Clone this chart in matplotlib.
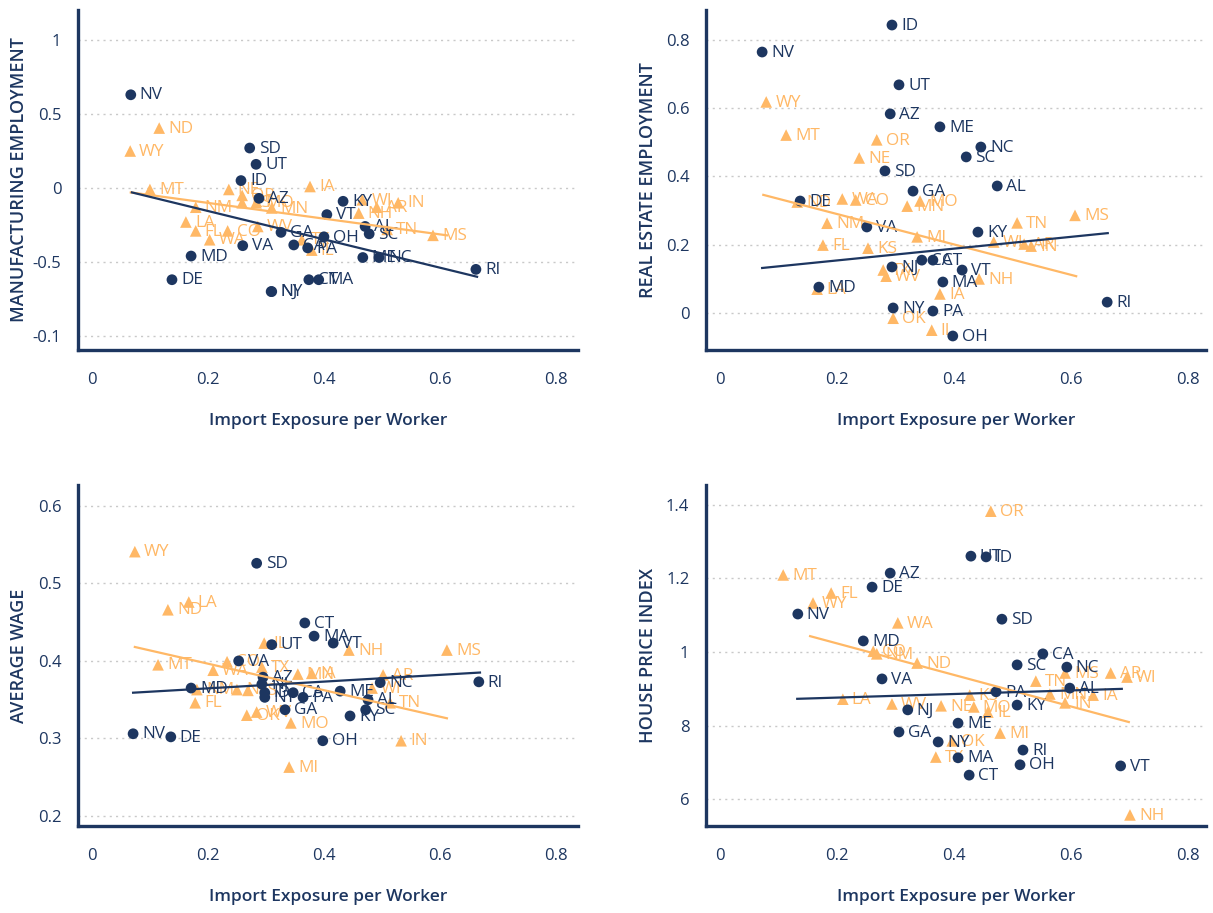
import matplotlib
matplotlib.use("Agg")
import matplotlib.pyplot as plt
import numpy as np

plt.rcParams['font.family'] = ['Open Sans', 'DejaVu Sans']

NAVY = "#1d3660"
ORANGE = "#ffb866"

# ---------------- Panel 1: Manufacturing employment ----------------
mfg_navy_states = ["NV", "SD", "UT", "ID", "AZ", "KY", "VT", "AL", "SC", "GA", "OH", "CA", "PA",
                   "VA", "MD", "DE", "NJ", "NY", "CT", "MA", "ME", "NC", "RI"]
mfg_navy_x = [0.067, 0.272, 0.283, 0.257, 0.288, 0.433, 0.405, 0.471, 0.478, 0.326, 0.400, 0.348, 0.372,
              0.260, 0.171, 0.138, 0.309, 0.310, 0.374, 0.391, 0.467, 0.495, 0.662]
mfg_navy_y = [0.63, 0.27, 0.16, 0.05, -0.07, -0.09, -0.18, -0.26, -0.31, -0.30, -0.33, -0.385, -0.405,
              -0.39, -0.46, -0.62, -0.70, -0.70, -0.62, -0.62, -0.47, -0.47, -0.55]
mfg_orange_states = ["ND", "WY", "MT", "IA", "NE", "OR", "KS", "MO", "MN", "NM", "LA", "FL", "CO", "WA",
                     "WV", "TX", "IL", "WI", "AR", "IN", "NH", "TN", "MS"]
mfg_orange_x = [0.116, 0.066, 0.100, 0.376, 0.236, 0.259, 0.259, 0.283, 0.310, 0.179, 0.162, 0.179, 0.234, 0.203,
                0.286, 0.362, 0.379, 0.466, 0.491, 0.528, 0.460, 0.509, 0.588]
mfg_orange_y = [0.405, 0.25, -0.01, 0.01, -0.01, -0.05, -0.10, -0.10, -0.135, -0.13, -0.23, -0.29, -0.29, -0.35,
                -0.26, -0.35, -0.42, -0.08, -0.13, -0.10, -0.17, -0.28, -0.32]
mfg_navy_fit_x = [0.069, 0.664]
mfg_navy_fit_y = [-0.03, -0.60]
mfg_orange_fit_x = [0.067, 0.612]
mfg_orange_fit_y = [-0.03, -0.32]
mfg_yticks = [1, 0.5, 0, -0.5, -1]
mfg_yticklabels = ["1", "0.5", "0", "-0.5", "-0.1"]

# ---------------- Panel 2: Real estate employment ----------------
re_navy_states = ["ID", "NV", "UT", "AZ", "ME", "NC", "SC", "SD", "AL", "GA", "DE", "VA", "KY", "CA", "CT",
                  "NJ", "VT", "MA", "MD", "NY", "PA", "OH", "RI"]
re_navy_x = [0.294, 0.072, 0.306, 0.291, 0.376, 0.446, 0.421, 0.282, 0.474, 0.330, 0.137, 0.251, 0.441, 0.345, 0.364,
             0.294, 0.414, 0.381, 0.169, 0.296, 0.364, 0.398, 0.662]
re_navy_y = [0.843, 0.764, 0.668, 0.583, 0.545, 0.486, 0.457, 0.416, 0.372, 0.357, 0.328, 0.252, 0.237, 0.155, 0.155,
             0.135, 0.126, 0.091, 0.076, 0.015, 0.006, -0.067, 0.032]
re_orange_states = ["WY", "MT", "OR", "NE", "ND", "WA", "CO", "MN", "MO", "NM", "FL", "KS", "MI", "TX", "WV",
                    "LA", "IA", "OK", "IL", "NH", "TN", "MS", "WI", "AR", "IN"]
re_orange_x = [0.079, 0.113, 0.268, 0.238, 0.132, 0.209, 0.232, 0.320, 0.342, 0.183, 0.176, 0.253, 0.337, 0.279, 0.284,
               0.166, 0.376, 0.296, 0.362, 0.443, 0.508, 0.607, 0.468, 0.520, 0.532]
re_orange_y = [0.618, 0.521, 0.507, 0.454, 0.325, 0.334, 0.331, 0.313, 0.328, 0.263, 0.199, 0.190, 0.223, 0.126, 0.108,
               0.070, 0.056, -0.015, -0.050, 0.100, 0.264, 0.286, 0.208, 0.202, 0.196]
re_navy_fit_x = [0.072, 0.663]
re_navy_fit_y = [0.132, 0.234]
re_orange_fit_x = [0.074, 0.609]
re_orange_fit_y = [0.346, 0.108]
re_yticks = [0.8, 0.6, 0.4, 0.2, 0]
re_yticklabels = ["0.8", "0.6", "0.4", "0.2", "0"]

# ---------------- Panel 3: Average wage ----------------
wage_navy_states = ["SD", "CT", "MA", "VT", "UT", "VA", "MD", "AZ", "NJ", "ID", "NY", "CA", "PA", "ME", "NC",
                    "AL", "SC", "KY", "GA", "NV", "DE", "OH", "RI"]
wage_navy_x = [0.284, 0.367, 0.383, 0.416, 0.310, 0.253, 0.171, 0.295, 0.293, 0.298, 0.298, 0.347, 0.364, 0.428, 0.497,
               0.476, 0.472, 0.445, 0.333, 0.071, 0.136, 0.398, 0.667]
wage_navy_y = [0.526, 0.449, 0.432, 0.423, 0.421, 0.400, 0.365, 0.379, 0.370, 0.359, 0.353, 0.359, 0.353, 0.361, 0.372,
               0.350, 0.337, 0.329, 0.337, 0.306, 0.302, 0.297, 0.373]
wage_orange_states = ["WY", "LA", "ND", "MT", "WA", "CO", "IL", "TX", "FL", "NM", "NE", "KS", "OK", "WV", "MO",
                      "MI", "MN", "IA", "NH", "MS", "AR", "WI", "TN", "IN"]
wage_orange_x = [0.074, 0.167, 0.131, 0.114, 0.209, 0.233, 0.297, 0.293, 0.178, 0.181, 0.250, 0.269, 0.267, 0.284,
                 0.343, 0.340, 0.355, 0.379, 0.443, 0.612, 0.502, 0.483, 0.514, 0.533]
wage_orange_y = [0.541, 0.476, 0.466, 0.395, 0.388, 0.399, 0.423, 0.392, 0.346, 0.363, 0.363, 0.362, 0.330, 0.334,
                 0.320, 0.263, 0.383, 0.384, 0.414, 0.414, 0.382, 0.365, 0.346, 0.297]
wage_navy_fit_x = [0.071, 0.669]
wage_navy_fit_y = [0.359, 0.385]
wage_orange_fit_x = [0.074, 0.612]
wage_orange_fit_y = [0.418, 0.326]
wage_yticks = [0.6, 0.5, 0.4, 0.3, 0.2]
wage_yticklabels = ["0.6", "0.5", "0.4", "0.3", "0.2"]

# ---------------- Panel 4: House price index ----------------
hpi_navy_states = ["UT", "ID", "AZ", "DE", "NV", "SD", "MD", "CA", "SC", "NC", "VA", "PA", "AL", "KY", "NJ",
                   "ME", "GA", "NY", "RI", "MA", "OH", "CT", "VT"]
hpi_navy_x = [0.429, 0.455, 0.291, 0.260, 0.133, 0.482, 0.245, 0.552, 0.508, 0.593, 0.277, 0.472, 0.598, 0.508, 0.321,
              0.407, 0.306, 0.373, 0.518, 0.407, 0.513, 0.426, 0.685]
hpi_navy_y = [1.260, 1.258, 1.214, 1.176, 1.103, 1.089, 1.030, 0.995, 0.965, 0.959, 0.927, 0.892, 0.902, 0.856, 0.843,
              0.807, 0.783, 0.756, 0.734, 0.713, 0.694, 0.666, 0.691]
hpi_orange_states = ["OR", "MT", "FL", "WY", "WA", "CO", "NM", "ND", "LA", "WV", "NE", "KS", "MO", "IL", "TN",
                     "MS", "AR", "WI", "MN", "IA", "IN", "MI", "OK", "TX", "NH"]
hpi_orange_x = [0.463, 0.108, 0.190, 0.159, 0.304, 0.262, 0.268, 0.337, 0.210, 0.294, 0.378, 0.427, 0.434, 0.458, 0.540,
                0.590, 0.668, 0.696, 0.564, 0.638, 0.590, 0.479, 0.397, 0.369, 0.701]
hpi_orange_y = [1.382, 1.209, 1.160, 1.133, 1.079, 1.002, 0.995, 0.970, 0.872, 0.859, 0.854, 0.883, 0.851, 0.837, 0.921,
                0.943, 0.943, 0.932, 0.886, 0.883, 0.862, 0.780, 0.759, 0.715, 0.558]
hpi_navy_fit_x = [0.132, 0.687]
hpi_navy_fit_y = [0.873, 0.900]
hpi_orange_fit_x = [0.154, 0.699]
hpi_orange_fit_y = [1.043, 0.810]
hpi_yticks = [1.4, 1.2, 1.0, 0.8, 0.6]
hpi_yticklabels = ["1.4", "1.2", "1", "8", "6"]

xticks = [0, 0.2, 0.4, 0.6, 0.8]
xticklabels = ["0", "0.2", "0.4", "0.6", "0.8"]
xlabel = "Import Exposure per Worker"

W, H = 1213, 913
fig = plt.figure(figsize=(W / 100, H / 100), dpi=100)


def px_axes(l, t, r, b):
    return fig.add_axes([l / W, 1 - b / H, (r - l) / W, (b - t) / H])


panels = [
    dict(box=(78, 10, 578, 350), xlim=(-0.024, 0.838), ylim=(-1.095, 1.203), ylabel="MANUFACTURING EMPLOYMENT",
         nav=(mfg_navy_states, mfg_navy_x, mfg_navy_y), org=(mfg_orange_states, mfg_orange_x, mfg_orange_y),
         nfit=(mfg_navy_fit_x, mfg_navy_fit_y), ofit=(mfg_orange_fit_x, mfg_orange_fit_y),
         yt=(mfg_yticks, mfg_yticklabels), ylab_x=-0.12),
    dict(box=(706, 10, 1206, 350), xlim=(-0.024, 0.831), ylim=(-0.108, 0.887), ylabel="REAL ESTATE EMPLOYMENT",
         nav=(re_navy_states, re_navy_x, re_navy_y), org=(re_orange_states, re_orange_x, re_orange_y),
         nfit=(re_navy_fit_x, re_navy_fit_y), ofit=(re_orange_fit_x, re_orange_fit_y),
         yt=(re_yticks, re_yticklabels), ylab_x=-0.118),
    dict(box=(78, 485, 578, 826), xlim=(-0.024, 0.838), ylim=(0.187, 0.627), ylabel="AVERAGE WAGE",
         nav=(wage_navy_states, wage_navy_x, wage_navy_y), org=(wage_orange_states, wage_orange_x, wage_orange_y),
         nfit=(wage_navy_fit_x, wage_navy_fit_y), ofit=(wage_orange_fit_x, wage_orange_fit_y),
         yt=(wage_yticks, wage_yticklabels), ylab_x=-0.12),
    dict(box=(706, 485, 1206, 826), xlim=(-0.024, 0.831), ylim=(0.528, 1.453), ylabel="HOUSE PRICE INDEX",
         nav=(hpi_navy_states, hpi_navy_x, hpi_navy_y), org=(hpi_orange_states, hpi_orange_x, hpi_orange_y),
         nfit=(hpi_navy_fit_x, hpi_navy_fit_y), ofit=(hpi_orange_fit_x, hpi_orange_fit_y),
         yt=(hpi_yticks, hpi_yticklabels), ylab_x=-0.118),
]

for p in panels:
    ax = px_axes(*p["box"])
    ax.set_xlim(*p["xlim"])
    ax.set_ylim(*p["ylim"])
    for s in ["top", "right"]:
        ax.spines[s].set_visible(False)
    for s in ["left", "bottom"]:
        ax.spines[s].set_color(NAVY)
        ax.spines[s].set_linewidth(2.4)
    ax.set_xticks(xticks)
    ax.set_xticklabels(xticklabels)
    ax.set_yticks(p["yt"][0])
    ax.set_yticklabels(p["yt"][1])
    ax.tick_params(axis="y", length=0, colors=NAVY, labelsize=12, pad=12)
    ax.tick_params(axis="x", length=0, colors=NAVY, labelsize=12, pad=16)
    ax.grid(axis="y", color="#c9c9c9", linestyle=(0, (1.5, 3)), linewidth=1.0)
    ax.set_axisbelow(True)

    # orange points
    st, xs, ys = p["org"]
    ax.scatter(xs, ys, marker="^", s=70, color=ORANGE, edgecolors="none", zorder=3)
    for n, x, y in zip(st, xs, ys):
        ax.annotate(n, (x, y), xytext=(6.5, -0.5), textcoords="offset points", va="center", ha="left",
                    fontsize=12.3, color=ORANGE, zorder=3)
    # navy points
    st, xs, ys = p["nav"]
    ax.scatter(xs, ys, marker="o", s=60, color=NAVY, edgecolors="none", zorder=4)
    for n, x, y in zip(st, xs, ys):
        ax.annotate(n, (x, y), xytext=(6.5, -0.5), textcoords="offset points", va="center", ha="left",
                    fontsize=12.3, color=NAVY, zorder=4)
    # fit lines
    ax.plot(*p["ofit"], color=ORANGE, linewidth=1.6, zorder=5)
    ax.plot(*p["nfit"], color=NAVY, linewidth=1.6, zorder=5)

    ax.set_ylabel(p["ylabel"], color=NAVY, fontsize=13, fontweight="semibold")
    ax.yaxis.set_label_coords(p["ylab_x"] + 0.02, 0.5)
    ax.set_xlabel(xlabel, color=NAVY, fontsize=12.5, fontweight="semibold")
    ax.xaxis.set_label_coords(0.5, -0.185)

fig.savefig("out.png", dpi=100)
